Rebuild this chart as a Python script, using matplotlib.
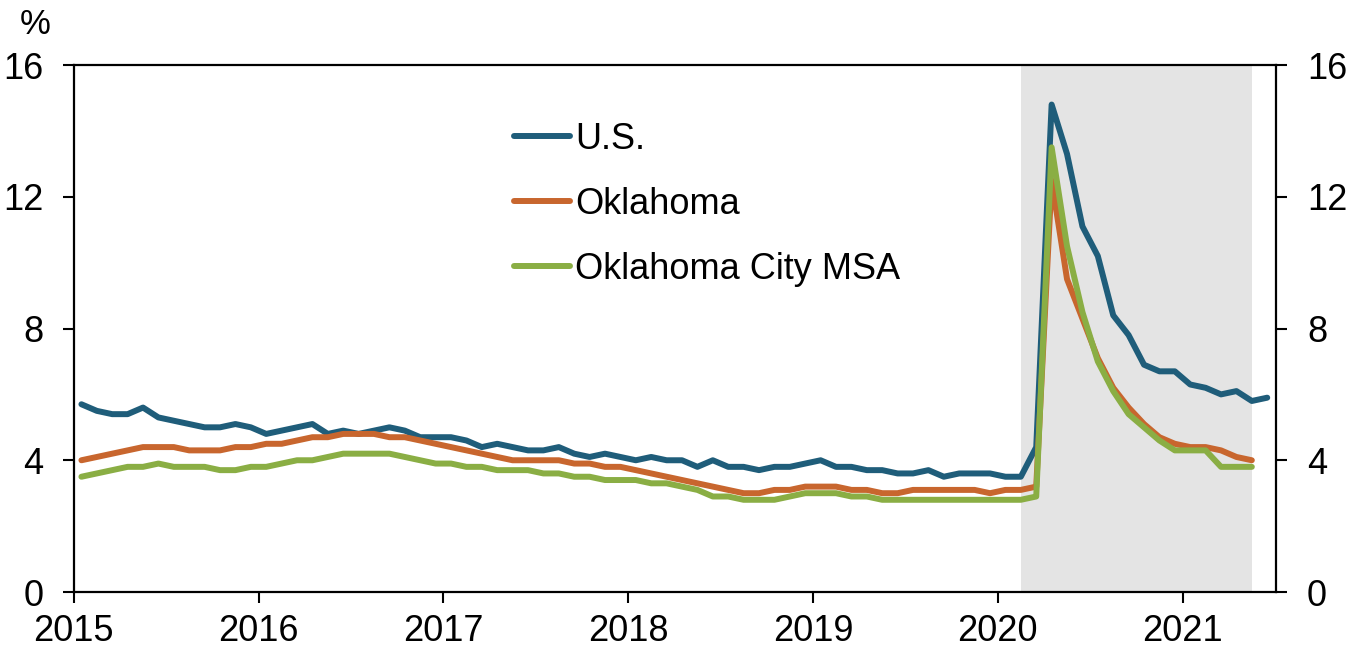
import numpy as np
import matplotlib
matplotlib.use("Agg")
import matplotlib.pyplot as plt

plt.rcParams['font.family'] = ['Liberation Sans', 'DejaVu Sans']

# monthly unemployment rate, %, Jan 2015 onward
us = [5.7, 5.5, 5.4, 5.4, 5.6, 5.3, 5.2, 5.1, 5.0, 5.0, 5.1, 5.0,
      4.8, 4.9, 5.0, 5.1, 4.8, 4.9, 4.8, 4.9, 5.0, 4.9, 4.7, 4.7,
      4.7, 4.6, 4.4, 4.5, 4.4, 4.3, 4.3, 4.4, 4.2, 4.1, 4.2, 4.1,
      4.0, 4.1, 4.0, 4.0, 3.8, 4.0, 3.8, 3.8, 3.7, 3.8, 3.8, 3.9,
      4.0, 3.8, 3.8, 3.7, 3.7, 3.6, 3.6, 3.7, 3.5, 3.6, 3.6, 3.6,
      3.5, 3.5, 4.4, 14.8, 13.3, 11.1, 10.2, 8.4, 7.8, 6.9, 6.7, 6.7,
      6.3, 6.2, 6.0, 6.1, 5.8, 5.9]
oklahoma = [4.0, 4.1, 4.2, 4.3, 4.4, 4.4, 4.4, 4.3, 4.3, 4.3, 4.4, 4.4,
            4.5, 4.5, 4.6, 4.7, 4.7, 4.8, 4.8, 4.8, 4.7, 4.7, 4.6, 4.5,
            4.4, 4.3, 4.2, 4.1, 4.0, 4.0, 4.0, 4.0, 3.9, 3.9, 3.8, 3.8,
            3.7, 3.6, 3.5, 3.4, 3.3, 3.2, 3.1, 3.0, 3.0, 3.1, 3.1, 3.2,
            3.2, 3.2, 3.1, 3.1, 3.0, 3.0, 3.1, 3.1, 3.1, 3.1, 3.1, 3.0,
            3.1, 3.1, 3.2, 12.5, 9.5, 8.3, 7.1, 6.2, 5.6, 5.1, 4.7, 4.5,
            4.4, 4.4, 4.3, 4.1, 4.0]
okc_msa = [3.5, 3.6, 3.7, 3.8, 3.8, 3.9, 3.8, 3.8, 3.8, 3.7, 3.7, 3.8,
           3.8, 3.9, 4.0, 4.0, 4.1, 4.2, 4.2, 4.2, 4.2, 4.1, 4.0, 3.9,
           3.9, 3.8, 3.8, 3.7, 3.7, 3.7, 3.6, 3.6, 3.5, 3.5, 3.4, 3.4,
           3.4, 3.3, 3.3, 3.2, 3.1, 2.9, 2.9, 2.8, 2.8, 2.8, 2.9, 3.0,
           3.0, 3.0, 2.9, 2.9, 2.8, 2.8, 2.8, 2.8, 2.8, 2.8, 2.8, 2.8,
           2.8, 2.8, 2.9, 13.5, 10.5, 8.5, 7.0, 6.1, 5.4, 5.0, 4.6, 4.3,
           4.3, 4.3, 3.8, 3.8, 3.8]
labels = ["U.S.", "Oklahoma", "Oklahoma City MSA"]
colors = ["#1f5d7a", "#c8662e", "#8aae44"]
years = [2015, 2016, 2017, 2018, 2019, 2020, 2021]
yticks = [0, 4, 8, 12, 16]
# shaded period: Feb 2020 - May 2021
shade = (2020 + 1.5 / 12, 2021 + 4.5 / 12)


def month_x(n):
    # points sit mid-month
    return 2015 + (np.arange(n) + 0.5) / 12


fig = plt.figure(figsize=(13.55, 6.52), dpi=100)
ax = fig.add_axes([0.0544, 0.092, 0.8876, 0.8083])

ax.axvspan(shade[0], shade[1], color="#e4e4e4", lw=0, zorder=0)

for vals, lab, c in zip([us, oklahoma, okc_msa], labels, colors):
    ax.plot(month_x(len(vals)), vals, color=c, lw=4.3, label=lab,
            solid_capstyle="round", solid_joinstyle="round")

ax.set_xlim(2015, 2021.508)
ax.set_ylim(0, 16)
ax.set_xticks(years)
ax.set_xticklabels([str(y) for y in years])
ax.set_yticks(yticks)
ax.tick_params(axis="both", direction="out", length=8, width=1.5,
               labelsize=26, color="black")
ax.tick_params(axis="y", pad=14, right=True, labelright=True)
ax.tick_params(axis="x", pad=8)
for s in ax.spines.values():
    s.set_linewidth(1.6)

fig.text(0.026, 0.963, "%", fontsize=25, ha="center", va="center")

ax.legend(loc="upper left", bbox_to_anchor=(0.366, 0.892), frameon=False,
          fontsize=26, handlelength=1.55, handletextpad=0.15,
          labelspacing=0.83, borderpad=0, borderaxespad=0)

fig.savefig("out.png", dpi=100)
